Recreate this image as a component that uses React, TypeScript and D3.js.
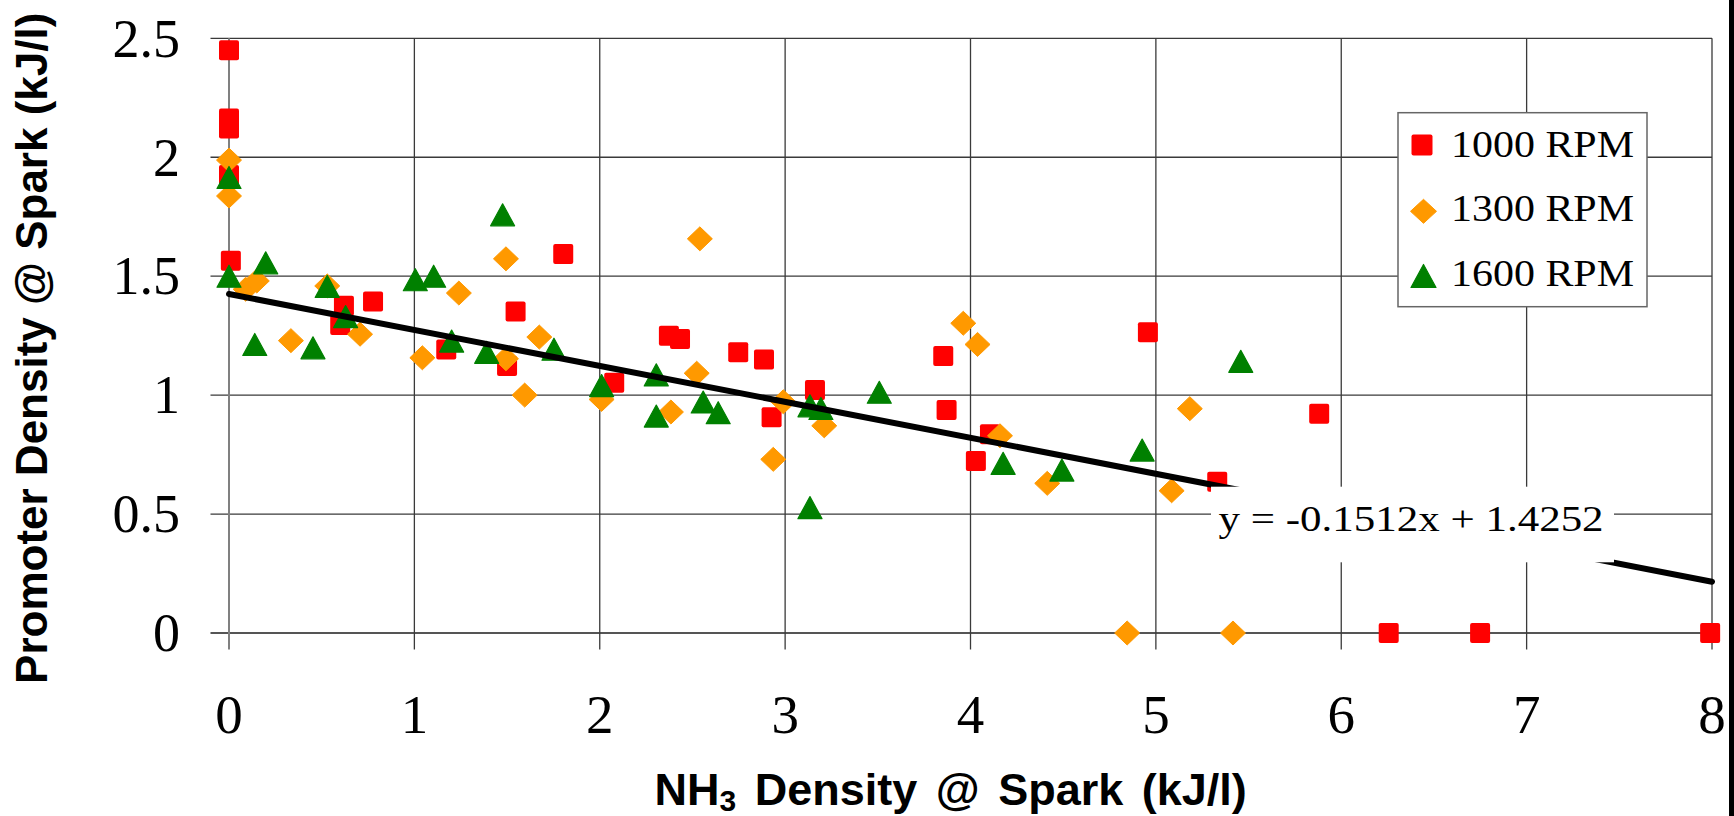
import React from "react";
import * as d3 from "d3";

// ---- data ----
const X_TICKS = [0, 1, 2, 3, 4, 5, 6, 7, 8];
const Y_TICKS = [0, 0.5, 1, 1.5, 2, 2.5];
const Y_TICK_LABELS = ["0", "0.5", "1", "1.5", "2", "2.5"];

const SERIES_NAMES = ["1000 RPM", "1300 RPM", "1600 RPM"];

const rpm1000: [number, number][] = [
  [0, 2.45], [0, 2.163], [0, 2.121], [0, 1.925], [0.01, 1.565],
  [0.6, 1.295], [0.62, 1.376], [0.777, 1.394], [1.172, 1.192], [1.5, 1.122],
  [1.546, 1.351], [1.803, 1.593], [2.078, 1.052], [2.373, 1.25], [2.433, 1.236],
  [2.747, 1.18], [2.886, 1.15], [2.927, 0.907], [3.161, 1.021], [3.853, 1.164],
  [3.871, 0.937], [4.029, 0.723], [4.105, 0.836], [4.957, 1.264], [5.331, 0.636],
  [5.881, 0.922], [6.256, 0], [6.749, 0], [7.99, 0],
];

const rpm1300: [number, number][] = [
  [0, 1.988], [0, 1.837], [0.09, 1.445], [0.15, 1.48], [0.334, 1.229],
  [0.53, 1.459], [0.707, 1.256], [1.043, 1.157], [1.24, 1.429], [1.494, 1.153],
  [1.494, 1.573], [1.595, 1.0], [1.674, 1.244], [2.01, 0.982], [2.384, 0.929],
  [2.523, 1.092], [2.54, 1.657], [2.936, 0.73], [2.99, 0.972], [3.211, 0.871],
  [3.961, 1.302], [4.038, 1.213], [4.159, 0.829], [4.414, 0.629], [4.845, 0],
  [5.085, 0.598], [5.183, 0.943], [5.416, 0],
];

const rpm1600: [number, number][] = [
  [0, 1.915], [0, 1.5], [0.139, 1.213], [0.198, 1.556], [0.453, 1.199],
  [0.53, 1.457], [0.629, 1.33], [1.005, 1.485], [1.104, 1.5], [1.201, 1.227],
  [1.39, 1.18], [1.476, 1.758], [1.753, 1.193], [2.01, 1.04], [2.305, 1.085],
  [2.305, 0.912], [2.558, 0.971], [2.639, 0.926], [3.134, 0.527], [3.134, 0.955],
  [3.193, 0.944], [3.508, 1.012], [4.176, 0.713], [4.493, 0.685], [4.926, 0.769],
  [5.458, 1.142],
];

const TREND_SLOPE = -0.1512;
const TREND_INTERCEPT = 1.4252;
const TREND_LABEL = "y = -0.1512x + 1.4252";

// ---- layout ----
const W = 1734;
const H = 816;
const L = 229, R = 1712, T = 38.3, B = 633;

const RED = "#FF0000";
const ORANGE = "#FF9900";
const GREEN = "#008000";

const serif = "'Liberation Serif', 'Times New Roman', serif";
const sans = "'Liberation Sans', Arial, sans-serif";

function Square({ cx, cy, s = 20 }: { cx: number; cy: number; s?: number }) {
  return <rect x={cx - s / 2} y={cy - s / 2} width={s} height={s} rx={2} fill={RED} />;
}
function Diamond({ cx, cy, w = 25, h = 24 }: { cx: number; cy: number; w?: number; h?: number }) {
  return (
    <path
      d={`M${cx},${cy - h / 2}L${cx + w / 2},${cy}L${cx},${cy + h / 2}L${cx - w / 2},${cy}Z`}
      fill={ORANGE}
      stroke={ORANGE}
      strokeWidth={1}
      strokeLinejoin="round"
    />
  );
}
function Triangle({ cx, cy, w = 24, h = 22 }: { cx: number; cy: number; w?: number; h?: number }) {
  return (
    <path
      d={`M${cx},${cy - h / 2}L${cx + w / 2},${cy + h / 2}L${cx - w / 2},${cy + h / 2}Z`}
      fill={GREEN}
      stroke={GREEN}
      strokeWidth={1.2}
      strokeLinejoin="round"
    />
  );
}

export default function App() {
  const x = d3.scaleLinear().domain([0, 8]).range([L, R]);
  const y = d3.scaleLinear().domain([0, 2.5]).range([B, T]);

  const trend = d3.line<number>()
    .x((d) => x(d))
    .y((d) => y(TREND_SLOPE * d + TREND_INTERCEPT));

  const gridColor = "#3a3a3a";

  return (
    <svg
      width={W}
      height={H}
      style={{ position: "absolute", left: 0, top: 0, background: "#fff" }}
    >
      <rect x={0} y={0} width={W} height={H} fill="#fff" />

      {/* horizontal gridlines with left ticks */}
      {Y_TICKS.map((t) => (
        <line
          key={"h" + t}
          x1={L - 18.5}
          x2={R}
          y1={y(t)}
          y2={y(t)}
          stroke={t === 0 ? "#555" : gridColor}
          strokeWidth={t === 0 ? 1.8 : 1.3}
        />
      ))}
      {/* vertical gridlines with bottom ticks */}
      {X_TICKS.map((t) => (
        <line
          key={"v" + t}
          x1={x(t)}
          x2={x(t)}
          y1={T}
          y2={B + 16.5}
          stroke={t === 0 ? "#808080" : gridColor}
          strokeWidth={t === 0 ? 2 : 1.3}
        />
      ))}

      {/* y tick labels */}
      {Y_TICKS.map((t, i) => (
        <text
          key={"yl" + t}
          x={180}
          y={y(t) + 18.3}
          textAnchor="end"
          fontFamily={serif}
          fontSize={54}
          fill="#000"
        >
          {Y_TICK_LABELS[i]}
        </text>
      ))}
      {/* x tick labels */}
      {X_TICKS.map((t) => (
        <text
          key={"xl" + t}
          x={x(t)}
          y={733}
          textAnchor="middle"
          fontFamily={serif}
          fontSize={55}
          fill="#000"
        >
          {t}
        </text>
      ))}

      {/* markers: series drawn in order */}
      {rpm1000.map(([a, b], i) => (
        <Square key={"r" + i} cx={x(a)} cy={y(b)} />
      ))}
      {rpm1300.map(([a, b], i) => (
        <Diamond key={"o" + i} cx={x(a)} cy={y(b)} />
      ))}
      {rpm1600.map(([a, b], i) => (
        <Triangle key={"g" + i} cx={x(a)} cy={y(b)} />
      ))}

      {/* trendline */}
      <path d={trend([0, 8]) || ""} fill="none" stroke="#000" strokeWidth={6} strokeLinecap="round" />

      {/* trend label */}
      <rect x={1211} y={486.7} width={403} height={75.6} fill="#fff" />
      <text
        x={1218.6}
        y={530.7}
        fontFamily={serif}
        fontSize={36}
        textLength={385}
        lengthAdjust="spacingAndGlyphs"
        fill="#000"
      >
        {TREND_LABEL}
      </text>

      {/* legend */}
      <rect x={1398} y={112.7} width={249} height={194} fill="#fff" stroke="#666" strokeWidth={1.5} />
      <Square cx={1422} cy={145} s={21} />
      <Diamond cx={1423.5} cy={211.3} w={26} h={24} />
      <Triangle cx={1423.5} cy={276} w={25} h={23} />
      {SERIES_NAMES.map((n, i) => (
        <text
          key={n}
          x={1451}
          y={156.7 + i * 64.5}
          fontFamily={serif}
          fontSize={37}
          textLength={183}
          lengthAdjust="spacingAndGlyphs"
          fill="#000"
        >
          {n}
        </text>
      ))}

      {/* axis titles */}
      <text
        x={654.6}
        y={805}
        fontFamily={sans}
        fontWeight="bold"
        fontSize={45}
        wordSpacing={6}
        fill="#000"
      >
        NH<tspan fontSize={30} dy={6}>3</tspan>
        <tspan dy={-6}> Density @ Spark (kJ/l)</tspan>
      </text>
      <text
        transform={`translate(46.7,348.3) rotate(-90)`}
        textAnchor="middle"
        fontFamily={sans}
        fontWeight="bold"
        fontSize={44}
        fill="#000"
      >
        Promoter Density @ Spark (kJ/l)
      </text>

      {/* right frame edge */}
      <rect x={1729} y={0} width={5} height={H} fill="#000" />
    </svg>
  );
}
